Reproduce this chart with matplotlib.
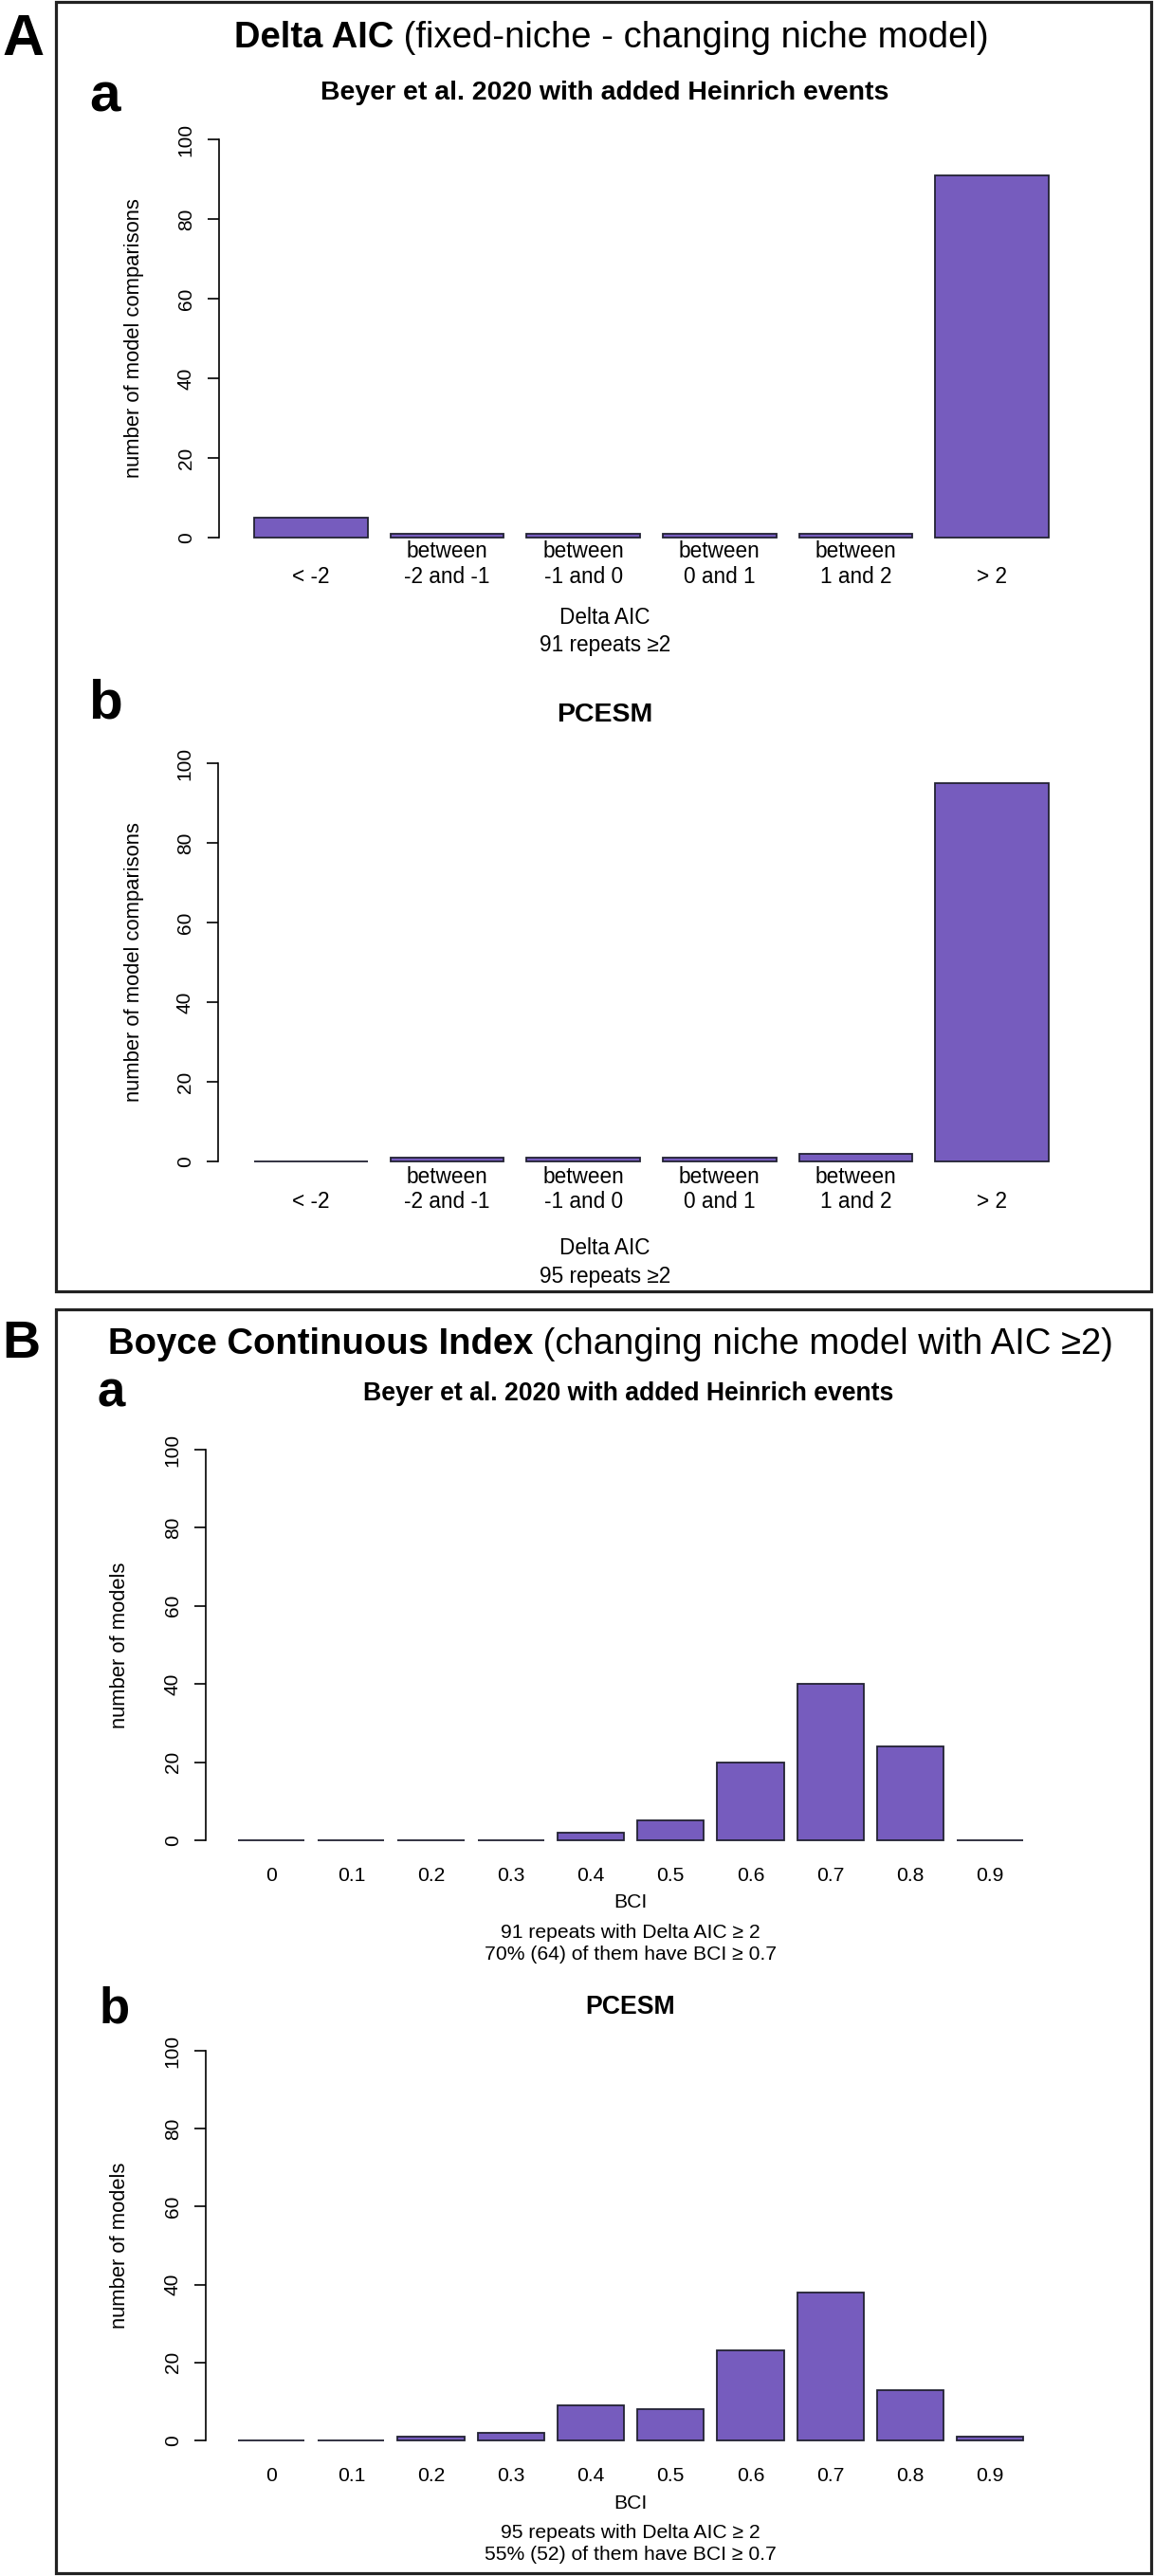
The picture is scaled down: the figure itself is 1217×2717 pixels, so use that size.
import matplotlib
matplotlib.use("Agg")
import matplotlib.pyplot as plt
from matplotlib.patches import Rectangle

plt.rcParams['font.family'] = ['Liberation Sans', 'DejaVu Sans']

# data
aic_labels = ["\n< -2", "between\n-2 and -1", "between\n-1 and 0",
              "between\n0 and 1", "between\n1 and 2", "\n> 2"]
aic_beyer = [5, 1, 1, 1, 1, 91]
aic_pcesm = [0, 1, 1, 1, 2, 95]

bci_labels = ["0", "0.1", "0.2", "0.3", "0.4", "0.5", "0.6", "0.7", "0.8", "0.9"]
bci_beyer = [0, 0, 0, 0, 2, 5, 20, 40, 24, 0]
bci_pcesm = [0, 0, 1, 2, 9, 8, 23, 38, 13, 1]

y_ticks = [0, 20, 40, 60, 80, 100]

BAR = '#765cbe'
EDGE = '#222233'
W, H = 1217, 2717

fig = plt.figure(figsize=(W / 100, H / 100), dpi=100)


def fx(px):
    return px / W


def fy(py):
    return 1 - py / H


def box(top, bottom):
    fig.patches.append(Rectangle((fx(59), fy(bottom)), fx(1214) - fx(59), fy(top) - fy(bottom),
                                 transform=fig.transFigure, fill=False, lw=2.3, ec='#222222'))


def two_part_title(xc, yb, bold, rest, size):
    t1 = fig.text(0, fy(yb), bold, weight='bold', size=size, va='baseline')
    t2 = fig.text(0, fy(yb), rest, size=size, va='baseline')
    r = fig.canvas.get_renderer()
    w1 = t1.get_window_extent(r).width
    w2 = t2.get_window_extent(r).width
    x0 = xc - (w1 + w2) / 2
    t1.set_x(fx(x0))
    t2.set_x(fx(x0 + w1))


def panel(xaxis, y100, y0, unit, first_left, values, labels, tsize, tpad, ylab, ylab_x):
    ax = fig.add_axes([fx(xaxis), fy(y0), 900 / W, (y0 - y100) / H])
    pos = [i * 1.2 for i in range(len(values))]
    ax.bar(pos, values, width=1.0, color=BAR, edgecolor=EDGE, linewidth=1.3, clip_on=False)
    x0 = -0.5 - (first_left - xaxis) / unit
    ax.set_xlim(x0, x0 + 900 / unit)
    ax.set_ylim(0, 100)
    for s in ['top', 'right', 'bottom']:
        ax.spines[s].set_visible(False)
    ax.spines['left'].set_linewidth(1.2)
    ax.set_yticks(y_ticks)
    ax.tick_params(axis='y', length=8.6, width=1.2, pad=9.5, labelsize=15, labelrotation=90)
    for lab in ax.get_yticklabels():
        lab.set_va('center')
    ax.set_xticks(pos, labels)
    ax.tick_params(axis='x', length=0, pad=tpad, labelsize=tsize)
    ax.set_ylabel(ylab, fontsize=15.8)
    ax.yaxis.label.set_va('center')
    ax.yaxis.set_label_coords((ylab_x - xaxis) / 900, 0.5)
    return ax


# ---------------- A: Delta AIC ----------------
box(2, 1362)
fig.text(fx(2), fy(58), "A", weight='bold', size=44, va='baseline')
two_part_title(645, 50, "Delta AIC", " (fixed-niche - changing niche model)", 27.5)

fig.text(fx(94), fy(117), "a", weight='bold', size=42, va='baseline')
fig.text(fx(638), fy(105), "Beyer et al. 2020 with added Heinrich events",
         weight='bold', size=20.5, ha='center', va='baseline')
panel(231, 147, 567, 119.7, 268, aic_beyer, aic_labels, 16.3, 2.5,
      "number of model comparisons", 141)
fig.text(fx(638), fy(652), "Delta AIC", size=16.3, ha='center', va='center')
fig.text(fx(638), fy(681), "91 repeats \u22652", size=16.3, ha='center', va='center')

fig.text(fx(93), fy(757), "b", weight='bold', size=42, va='baseline')
fig.text(fx(638), fy(761), "PCESM", weight='bold', size=20.5, ha='center', va='baseline')
panel(230, 805, 1225, 119.7, 268, aic_pcesm, aic_labels, 16.3, 3.5,
      "number of model comparisons", 141)
fig.text(fx(638), fy(1317), "Delta AIC", size=16.3, ha='center', va='center')
fig.text(fx(638), fy(1346), "95 repeats \u22652", size=16.3, ha='center', va='center')

# ---------------- B: Boyce Continuous Index ----------------
box(1381, 2714)
fig.text(fx(2), fy(1432), "B", weight='bold', size=40, va='baseline')
two_part_title(644, 1428, "Boyce Continuous Index", " (changing niche model with AIC \u22652)", 27.5)

fig.text(fx(103), fy(1484), "a", weight='bold', size=38, va='baseline')
fig.text(fx(663), fy(1477), "Beyer et al. 2020 with added Heinrich events",
         weight='bold', size=19.2, ha='center', va='baseline')
panel(217, 1529, 1941, 70.2, 251, bci_beyer, bci_labels, 15.2, 20,
      "number of models", 126)
fig.text(fx(665), fy(2007), "BCI", size=15.2, ha='center', va='center')
fig.text(fx(665), fy(2050), "91 repeats with Delta AIC \u2265 2\n70% (64) of them have BCI \u2265 0.7",
         size=15.2, ha='center', va='center', linespacing=1.25)

fig.text(fx(105), fy(2133), "b", weight='bold', size=38, va='baseline')
fig.text(fx(665), fy(2124), "PCESM", weight='bold', size=19.2, ha='center', va='baseline')
panel(217, 2163, 2574, 70.2, 251, bci_pcesm, bci_labels, 15.2, 20,
      "number of models", 126)
fig.text(fx(665), fy(2640), "BCI", size=15.2, ha='center', va='center')
fig.text(fx(665), fy(2683), "95 repeats with Delta AIC \u2265 2\n55% (52) of them have BCI \u2265 0.7",
         size=15.2, ha='center', va='center', linespacing=1.25)

fig.savefig("out.png", dpi=100)
